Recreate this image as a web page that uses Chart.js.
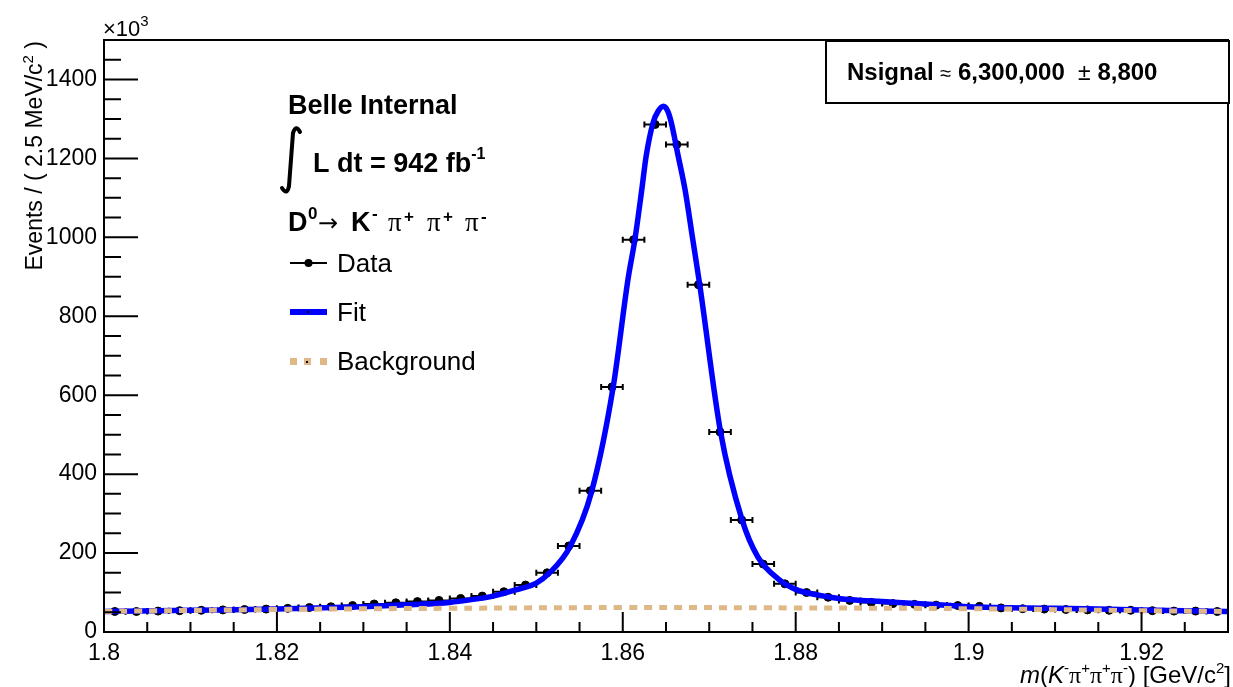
<!DOCTYPE html>
<html>
<head>
<meta charset="utf-8">
<script src="https://cdn.jsdelivr.net/npm/chart.js@4.4.1/dist/chart.umd.min.js"></script>
<style>
  html, body { margin: 0; padding: 0; background: #fff; }
</style>
</head>
<body>
<canvas id="graficomassa" width="1233" height="687"></canvas>
<script>
// bin centres of the 2.5 MeV histogram (GeV/c^2)
const binCenters = [
  1.80125, 1.80375, 1.80625, 1.80875, 1.81125, 1.81375, 1.81625, 1.81875, 1.82125, 1.82375,
  1.82625, 1.82875, 1.83125, 1.83375, 1.83625, 1.83875, 1.84125, 1.84375, 1.84625, 1.84875,
  1.85125, 1.85375, 1.85625, 1.85875, 1.86125, 1.86375, 1.86625, 1.86875, 1.87125, 1.87375,
  1.87625, 1.87875, 1.88125, 1.88375, 1.88625, 1.88875, 1.89125, 1.89375, 1.89625, 1.89875,
  1.90125, 1.90375, 1.90625, 1.90875, 1.91125, 1.91375, 1.91625, 1.91875, 1.92125, 1.92375,
  1.92625, 1.92875
];
// events per bin, x10^3
const dataEvents = [
  52, 52, 53, 54, 55, 56, 57, 58, 60, 62,
  64, 67, 71, 74, 77, 80, 85, 91, 102, 119,
  150, 218, 358, 621, 994, 1286, 1235, 880, 507, 284,
  172, 122, 100, 88, 80, 75, 72, 70, 68, 67,
  65, 61, 59, 58, 57, 56, 55, 55, 54, 53,
  53, 52
];
const halfBin = 0.00125;

// fit curve
const fitMass = [
  1.8, 1.81, 1.82, 1.83, 1.835, 1.84, 1.8425, 1.845, 1.8475, 1.85,
  1.8515, 1.8539, 1.8564, 1.8589, 1.8606, 1.8614, 1.8622, 1.8627, 1.8635, 1.8641,
  1.8647, 1.8652, 1.8656, 1.8664, 1.8672, 1.8681, 1.8689, 1.8713, 1.8738, 1.8756,
  1.878, 1.88, 1.8825, 1.885, 1.89, 1.895, 1.9, 1.91, 1.92, 1.93
];
const fitEvents = [
  52, 55, 58, 64, 69, 75, 82, 91, 106, 124,
  149, 216, 356, 622, 893, 994, 1121, 1205, 1290, 1320,
  1332, 1320, 1292, 1207, 1121, 994, 880, 508, 284, 191,
  134, 108, 94, 85, 77, 71, 64, 60, 56, 52
];

// background component
const bkgMass = [1.8, 1.82, 1.84, 1.86, 1.88, 1.9, 1.92, 1.93];
const bkgEvents = [52, 57, 60, 62, 61, 59, 54, 52];

const xTicks = [1.8, 1.82, 1.84, 1.86, 1.88, 1.9, 1.92];
const yTicks = [0, 200, 400, 600, 800, 1000, 1200, 1400];

const SANS = 'Liberation Sans';
const SERIF = 'Liberation Serif';
const tan = '#DEB887';

Chart.defaults.font.family = SANS;
Chart.defaults.color = '#000';

function fnt(size, bold, italic, fam) {
  return (italic ? 'italic ' : '') + (bold ? 'bold ' : '') + size + 'px "' + (fam || SANS) + '"';
}

// runs: [text, size, bold, italic, dy, family]
function runsWidth(ctx, runs) {
  let w = 0;
  runs.forEach(r => { ctx.font = fnt(r[1], r[2], r[3], r[5]); w += ctx.measureText(r[0]).width; });
  return w;
}
function drawRuns(ctx, x, y, runs) {
  let cx = x;
  runs.forEach(r => {
    ctx.font = fnt(r[1], r[2], r[3], r[5]);
    ctx.fillText(r[0], cx, y + (r[4] || 0));
    cx += ctx.measureText(r[0]).width;
  });
}

const rootStyle = {
  id: 'rootStyle',
  beforeDatasetsDraw(chart) {
    const ctx = chart.ctx, xs = chart.scales.x, ys = chart.scales.y;
    ctx.save();
    ctx.strokeStyle = '#000';
    ctx.lineWidth = 2;
    binCenters.forEach((m, i) => {
      const x0 = xs.getPixelForValue(m - halfBin), x1 = xs.getPixelForValue(m + halfBin);
      const y = ys.getPixelForValue(dataEvents[i]);
      ctx.beginPath();
      ctx.moveTo(x0, y); ctx.lineTo(x1, y);
      ctx.moveTo(x0, y - 3); ctx.lineTo(x0, y + 3);
      ctx.moveTo(x1, y - 3); ctx.lineTo(x1, y + 3);
      ctx.stroke();
    });
    ctx.restore();
  },
  afterDraw(chart) {
    const ctx = chart.ctx, xs = chart.scales.x, ys = chart.scales.y;
    const a = chart.chartArea;
    ctx.save();
    ctx.fillStyle = '#000';
    ctx.strokeStyle = '#000';
    ctx.textBaseline = 'alphabetic';
    ctx.textAlign = 'left';

    // frame
    ctx.lineWidth = 2;
    ctx.strokeRect(a.left, a.top, a.right - a.left, a.bottom - a.top);

    // ticks pointing inwards
    ctx.beginPath();
    for (let v = 0; v < 1500; v += 50) {
      const y = ys.getPixelForValue(v);
      const len = v % 200 === 0 ? 34 : 17;
      ctx.moveTo(a.left, y); ctx.lineTo(a.left + len, y);
    }
    for (let k = 0; k < 26; k++) {
      const x = xs.getPixelForValue(1.8 + k * 0.005);
      const len = k % 4 === 0 ? 20 : 10;
      ctx.moveTo(x, a.bottom); ctx.lineTo(x, a.bottom - len);
    }
    ctx.stroke();

    // x10^3
    drawRuns(ctx, 103, 36, [['\u00d710', 22], ['3', 15, false, false, -10]]);

    // y title
    const yRuns = [['Events / ( 2.5 MeV/c', 23], ['2', 15, false, false, -9], [' )', 23]];
    const yw = runsWidth(ctx, yRuns);
    ctx.save();
    ctx.translate(42, 41);
    ctx.rotate(-Math.PI / 2);
    drawRuns(ctx, -yw, 0, yRuns);
    ctx.restore();

    // x title
    const xRuns = [
      ['m', 24, false, true], ['(', 24], ['K', 24, false, true], ['-', 15, false, false, -10],
      ['\u03c0', 24, false, false, 0, SERIF], ['+', 15, false, false, -10],
      ['\u03c0', 24, false, false, 0, SERIF], ['+', 15, false, false, -10],
      ['\u03c0', 24, false, false, 0, SERIF], ['-', 15, false, false, -10],
      [') [GeV/c', 24], ['2', 15, false, false, -10], [']', 24]
    ];
    drawRuns(ctx, 1231 - runsWidth(ctx, xRuns), 683, xRuns);

    // Nsignal box
    ctx.fillStyle = '#fff';
    ctx.fillRect(826, 41, 403, 62);
    ctx.fillStyle = '#000';
    ctx.lineWidth = 2;
    ctx.strokeRect(826, 41, 403, 62);
    drawRuns(ctx, 847, 80, [
      ['Nsignal ', 24, true], ['\u2248', 20], [' 6,300,000  ', 24, true], ['\u00b1', 23], [' 8,800', 24, true]
    ]);

    // labels
    drawRuns(ctx, 288, 114, [['Belle Internal', 27, true]]);

    // integral sign
    ctx.lineWidth = 4;
    ctx.lineCap = 'round';
    ctx.beginPath();
    ctx.moveTo(300, 132);
    ctx.quadraticCurveTo(296, 124, 293, 133);
    ctx.lineTo(289, 186);
    ctx.quadraticCurveTo(287, 196, 282, 188);
    ctx.stroke();
    drawRuns(ctx, 313, 172, [['L dt = 942 fb', 27, true], ['-1', 16, true, false, -13]]);

    // decay
    ctx.font = fnt(27, true); ctx.fillText('D', 288, 231);
    ctx.font = fnt(17, true); ctx.fillText('0', 308, 219);
    ctx.font = fnt(24, false, false, 'DejaVu Sans'); ctx.fillText('\u2192', 318, 231);
    ctx.font = fnt(27, true); ctx.fillText('K', 351, 231);
    ctx.font = fnt(17, true); ctx.fillText('-', 372, 219);
    [[388, '+'], [427, '+'], [465, '-']].forEach(p => {
      ctx.font = fnt(27, false, false, SERIF); ctx.fillText('\u03c0', p[0], 231);
      ctx.font = fnt(17, true); ctx.fillText(p[1], p[0] + 16, 222);
    });

    // legend
    ctx.lineWidth = 2;
    ctx.lineCap = 'butt';
    ctx.beginPath(); ctx.moveTo(290, 263); ctx.lineTo(327, 263); ctx.stroke();
    ctx.beginPath(); ctx.arc(308.5, 263, 4, 0, Math.PI * 2); ctx.fill();
    drawRuns(ctx, 337, 272, [['Data', 26]]);

    ctx.fillStyle = '#0000ff';
    ctx.fillRect(290, 309, 37, 6);
    ctx.fillStyle = '#000';
    ctx.fillRect(307, 311, 2, 2);
    drawRuns(ctx, 337, 321, [['Fit', 26]]);

    ctx.fillStyle = tan;
    [290, 304, 320].forEach(x => ctx.fillRect(x, 358, 7, 7));
    ctx.fillStyle = '#000';
    ctx.fillRect(306, 361, 2, 2);
    drawRuns(ctx, 337, 370, [['Background', 26]]);

    ctx.restore();
  }
};

new Chart(document.getElementById('graficomassa'), {
  type: 'scatter',
  data: {
    datasets: [{
      label: 'Data',
      data: binCenters.map((m, i) => ({ x: m, y: dataEvents[i] })),
      backgroundColor: '#000',
      borderColor: '#000',
      pointRadius: 4,
      showLine: false,
      order: 3
    }, {
      label: 'Fit',
      data: fitMass.map((m, i) => ({ x: m, y: fitEvents[i] })),
      borderColor: '#0000ff',
      borderWidth: 5.5,
      pointRadius: 0,
      showLine: true,
      cubicInterpolationMode: 'monotone',
      order: 2
    }, {
      label: 'Background',
      data: bkgMass.map((m, i) => ({ x: m, y: bkgEvents[i] })),
      borderColor: tan,
      borderWidth: 5,
      borderDash: [8, 7],
      pointRadius: 0,
      showLine: true,
      tension: 0.4,
      order: 1
    }]
  },
  options: {
    responsive: false,
    animation: false,
    layout: { padding: { left: 0, right: 3, top: 40, bottom: 0 } },
    plugins: { legend: { display: false }, tooltip: { enabled: false } },
    scales: {
      x: {
        type: 'linear', min: 1.8, max: 1.93,
        grid: { display: false, drawTicks: false, tickLength: 0 },
        border: { display: false },
        afterBuildTicks: s => { s.ticks = xTicks.map(v => ({ value: v })); },
        afterFit: s => { s.height = 55; },
        ticks: {
          padding: 8, maxRotation: 0, autoSkip: false,
          color: '#000',
          font: { size: 23, family: SANS },
          callback: v => String(Number(v.toFixed(2)))
        }
      },
      y: {
        type: 'linear', min: 0, max: 1500,
        grid: { display: false, drawTicks: false, tickLength: 0 },
        border: { display: false },
        afterBuildTicks: s => { s.ticks = yTicks.map(v => ({ value: v })); },
        afterFit: s => { s.width = 104; },
        ticks: {
          padding: 7, autoSkip: false,
          color: '#000',
          font: { size: 23, family: SANS },
          callback: v => String(v)
        }
      }
    }
  },
  plugins: [rootStyle]
});
</script>
</body>
</html>
